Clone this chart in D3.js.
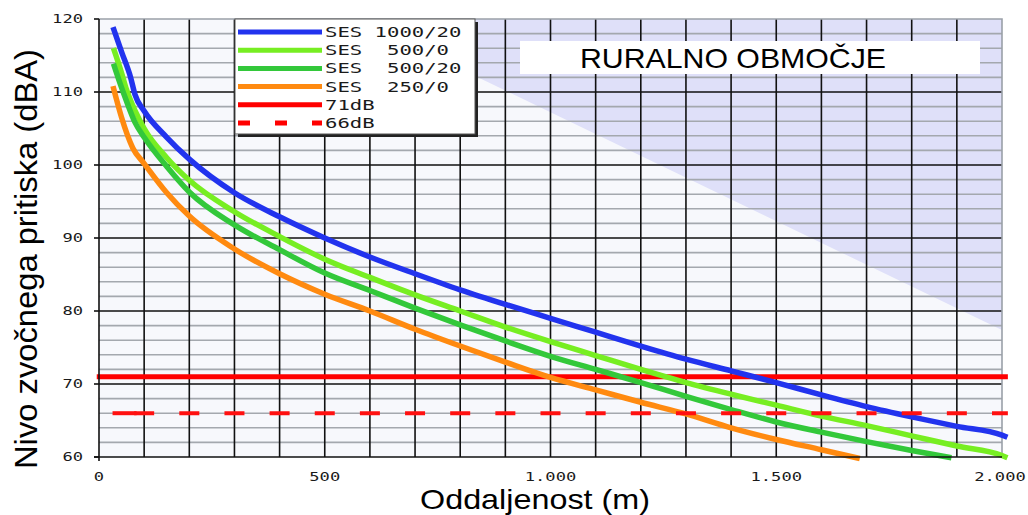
<!DOCTYPE html>
<html>
<head>
<meta charset="utf-8">
<script src="https://cdn.jsdelivr.net/npm/d3@7"></script>
<style>
  body { margin: 0; background: #fff; }
  svg { display: block; }
  .tick-label { font-family: "DejaVu Sans Mono", monospace; font-size: 11.5px; fill: #1a1a1a; }
  .legend-text { font-family: "DejaVu Sans Mono", monospace; font-size: 14px; fill: #1a1a1a; white-space: pre; }
</style>
</head>
<body>
<svg id="chart" width="1028" height="515"></svg>
<script>
// distance (m) / level (dBA)
const ses1000_20 = [[31,118.9],[50,115.5],[70,112.0],[80,109.6],[100,107.4],[150,103.8],[200,100.8],[300,96.2],[400,92.9],[500,90.0],[600,87.4],[700,85.1],[800,82.9],[900,80.9],[1000,79.0],[1100,77.1],[1200,75.2],[1300,73.4],[1400,71.8],[1500,70.2],[1600,68.5],[1700,66.9],[1800,65.5],[1900,64.2],[2000,63.0],[2012,62.7]];
const ses500_0 = [[32,116.0],[50,112.6],[60,110.5],[80,107.4],[100,105.0],[150,101.0],[200,97.9],[300,93.6],[400,90.2],[500,87.1],[600,84.6],[700,82.2],[800,80.0],[900,77.8],[1000,75.8],[1100,73.9],[1200,72.0],[1300,70.2],[1400,68.6],[1500,67.1],[1600,65.6],[1700,64.3],[1800,62.9],[1900,61.5],[2000,60.2],[2012,59.9]];
const ses500_20 = [[32,113.9],[50,110.6],[60,108.9],[80,105.8],[100,103.8],[150,99.8],[200,96.3],[300,91.8],[400,88.4],[500,85.2],[600,82.8],[700,80.4],[800,78.1],[900,75.9],[1000,73.8],[1100,72.0],[1200,70.2],[1300,68.3],[1400,66.5],[1500,64.8],[1600,63.4],[1700,62.1],[1800,60.9],[1888,59.9]];
const ses250_0 = [[31,110.8],[50,106.5],[75,102.3],[100,100.2],[150,96.2],[200,93.0],[300,88.5],[400,85.1],[500,82.3],[600,80.0],[700,77.5],[800,75.2],[900,73.0],[1000,70.9],[1100,69.2],[1200,67.5],[1300,65.9],[1400,64.0],[1500,62.4],[1600,61.0],[1685,59.8]];

const seriesNames = ["SES 1000/20", "SES  500/0", "SES  500/20", "SES  250/0"];
const seriesColors = ["#2233ee", "#77ee22", "#33c83a", "#ff8a10"];
const seriesData = [ses1000_20, ses500_0, ses500_20, ses250_0];

const limits = [71, 66];
const limitNames = ["71dB", "66dB"];

const xTicks = [0, 500, 1000, 1500, 2000];
const yTicks = [60, 70, 80, 90, 100, 110, 120];
const shadeCorners = [[571, 120], [2000, 120], [2000, 77.4]];

const svg = d3.select("#chart");
const x = d3.scaleLinear().domain([0, 2000]).range([99, 1002]);
const y = d3.scaleLinear().domain([60, 120]).range([457, 19]);
const fmt = d3.formatLocale({ decimal: ",", thousands: ".", grouping: [3], currency: ["", ""] }).format(",");

// plot background + shaded triangle
svg.append("rect").attr("x", x(0)).attr("y", y(120))
    .attr("width", x(2000) - x(0)).attr("height", y(60) - y(120))
    .attr("fill", "#f7f8fc");
svg.append("polygon")
    .attr("points", shadeCorners.map(d => [x(d[0]), y(d[1])].join(",")).join(" "))
    .attr("fill", "#dfe0f9");

// grid
const minor = d3.range(62, 120, 2).filter(v => v % 10 !== 0);
svg.append("g").selectAll("line").data(minor).join("line")
    .attr("x1", x(0)).attr("x2", x(2000))
    .attr("y1", d => y(d)).attr("y2", d => y(d))
    .attr("stroke", "#a4a8ae").attr("stroke-width", 1.6);
svg.append("g").selectAll("line").data(yTicks.filter(v => v > 60 && v < 120)).join("line")
    .attr("x1", x(0)).attr("x2", x(2000))
    .attr("y1", d => y(d)).attr("y2", d => y(d))
    .attr("stroke", "#111").attr("stroke-width", 1.6);
svg.append("g").selectAll("line").data(d3.range(100, 2000, 100)).join("line")
    .attr("x1", d => x(d)).attr("x2", d => x(d))
    .attr("y1", y(120)).attr("y2", y(60))
    .attr("stroke", "#111").attr("stroke-width", 1.6);
// frame top / right
svg.append("path")
    .attr("d", `M${x(0)},${y(120)}H${x(2000)}V${y(60)}`)
    .attr("fill", "none").attr("stroke", "#9aa0a8").attr("stroke-width", 1.6);

// 71 dB solid line (under curves)
svg.append("line")
    .attr("x1", x(-5)).attr("x2", x(2013))
    .attr("y1", y(limits[0])).attr("y2", y(limits[0]))
    .attr("stroke", "#ff0000").attr("stroke-width", 5);

// curves
const line = d3.line().x(d => x(d[0])).y(d => y(d[1])).curve(d3.curveMonotoneX);
svg.append("g").selectAll("path").data(seriesData).join("path")
    .attr("d", line)
    .attr("fill", "none")
    .attr("stroke", (d, i) => seriesColors[i])
    .attr("stroke-width", 5.5)
    .attr("stroke-linejoin", "round");

// 66 dB dashed line, dashes centred on the 100 m grid
const period = x(100) - x(0);
const dashStart = x(30);
const dashed = svg.append("g").attr("stroke", "#ff1010").attr("stroke-width", 4);
dashed.append("line")
    .attr("x1", dashStart).attr("x2", x(2013))
    .attr("y1", y(limits[1])).attr("y2", y(limits[1]))
    .attr("stroke-dasharray", `20,${period - 20}`)
    .attr("stroke-dashoffset", period - ((x(100) - 10 - dashStart) % period));
dashed.append("line")
    .attr("x1", dashStart).attr("x2", dashStart + 24)
    .attr("y1", y(limits[1])).attr("y2", y(limits[1]));

// axes
svg.append("line").attr("x1", x(0)).attr("x2", x(0)).attr("y1", y(120)).attr("y2", y(60) + 4)
    .attr("stroke", "#111").attr("stroke-width", 1.6);
svg.append("line").attr("x1", x(0) - 5).attr("x2", x(2000)).attr("y1", y(60)).attr("y2", y(60))
    .attr("stroke", "#111").attr("stroke-width", 1.6);
svg.append("g").selectAll("line").data(yTicks).join("line")
    .attr("x1", x(0) - 5).attr("x2", x(0))
    .attr("y1", d => y(d)).attr("y2", d => y(d))
    .attr("stroke", "#111").attr("stroke-width", 1.6);

const charW = 10.3;
svg.append("g").selectAll("text").data(yTicks).join("text")
    .attr("class", "tick-label")
    .attr("x", 83).attr("y", d => y(d) + 4)
    .attr("text-anchor", "end")
    .attr("textLength", d => String(d).length * charW).attr("lengthAdjust", "spacingAndGlyphs")
    .text(d => d);
svg.append("g").selectAll("text").data(xTicks).join("text")
    .attr("class", "tick-label")
    .attr("x", d => Math.min(x(d), 1000)).attr("y", 481)
    .attr("text-anchor", "middle")
    .attr("textLength", d => fmt(d).length * charW).attr("lengthAdjust", "spacingAndGlyphs")
    .text(d => fmt(d));

// axis titles
svg.append("text")
    .attr("transform", "translate(37,259) rotate(-90)")
    .attr("text-anchor", "middle")
    .attr("font-family", "Liberation Sans, Arial, sans-serif")
    .attr("font-size", 31)
    .attr("textLength", 420).attr("lengthAdjust", "spacingAndGlyphs")
    .attr("fill", "#000")
    .text("Nivo zvočnega pritiska (dBA)");
svg.append("text")
    .attr("x", 535).attr("y", 509)
    .attr("text-anchor", "middle")
    .attr("font-family", "Liberation Sans, Arial, sans-serif")
    .attr("font-size", 28)
    .attr("textLength", 230).attr("lengthAdjust", "spacingAndGlyphs")
    .attr("fill", "#000")
    .text("Oddaljenost (m)");

// area label
svg.append("rect").attr("x", 520).attr("y", 41).attr("width", 460).attr("height", 33).attr("fill", "#fff");
svg.append("text")
    .attr("x", 733).attr("y", 68)
    .attr("text-anchor", "middle")
    .attr("font-family", "Liberation Sans, Arial, sans-serif")
    .attr("font-size", 28)
    .attr("textLength", 306).attr("lengthAdjust", "spacingAndGlyphs")
    .attr("fill", "#000")
    .text("RURALNO OBMOČJE");

// legend
const legend = svg.append("g");
legend.append("rect").attr("x", 238).attr("y", 22).attr("width", 240).attr("height", 115).attr("fill", "#222");
legend.append("rect").attr("x", 235).attr("y", 19).attr("width", 240).attr("height", 115)
    .attr("fill", "#fff").attr("stroke", "#555").attr("stroke-width", 1);

const legendRows = seriesNames.map((n, i) => ({ name: n, color: seriesColors[i], dash: null }))
    .concat(limitNames.map((n, i) => ({ name: n, color: "#ff0000", dash: i === 1 ? "12,25" : null })));
const rowY = d3.scaleLinear().domain([0, 5]).range([32, 123]);
legend.selectAll("line").data(legendRows).join("line")
    .attr("x1", 238).attr("x2", 322)
    .attr("y1", (d, i) => rowY(i)).attr("y2", (d, i) => rowY(i))
    .attr("stroke", d => d.color).attr("stroke-width", 5)
    .attr("stroke-dasharray", d => d.dash);
legend.selectAll("text").data(legendRows).join("text")
    .attr("class", "legend-text")
    .attr("x", 325).attr("y", (d, i) => rowY(i) + 5)
    .attr("textLength", d => d.name.length * 12.4).attr("lengthAdjust", "spacingAndGlyphs")
    .text(d => d.name);
</script>
</body>
</html>
